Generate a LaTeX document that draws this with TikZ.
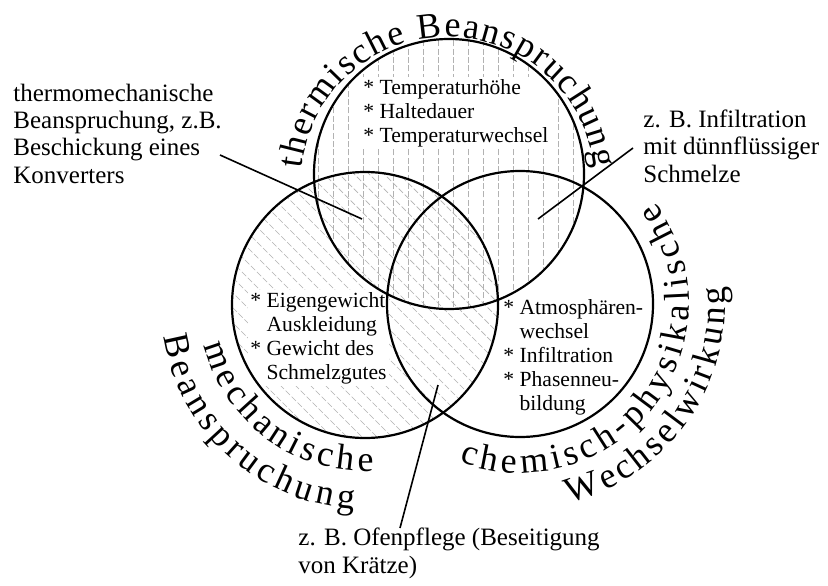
\documentclass[tikz,border=0pt]{standalone}
\usepackage{fontspec}
\setmainfont{Liberation Serif}
\usetikzlibrary{decorations.text}

\newcommand{\notesize}{\fontsize{12.5}{13.6}\selectfont}
\newcommand{\itemsize}{\fontsize{10.8}{12}\selectfont}
\newcommand{\arcsize}{\fontsize{18}{20}\selectfont}

\tikzset{
  ring/.style={line width=1.1pt},
  hatch/.style={gray!60, line width=0.35pt, dash pattern=on 3pt off 1.2pt},
  items/.style={fill=white, inner sep=1pt, align=left, anchor=base west, font=\itemsize},
  note/.style={inner sep=0pt, align=left, anchor=base west, font=\notesize},
  leader/.style={line width=0.8pt},
  arctext/.style={decorate, decoration={text along path, text align={fit to path}, text={|\arcsize|#1}}},
}

\begin{document}
\begin{tikzpicture}[x=0.5pt, y=0.5pt]
  \useasboundingbox[fill=white] (0,0) rectangle (828,585);
  \coordinate (therm) at (449,411);
  \coordinate (mech) at (365,280);
  \coordinate (chem) at (520,281);
  \coordinate (thermtext) at (448,401);

  % hatching
  \begin{scope}
    \clip (therm) circle[radius=135];
    \foreach \x in {318,333,...,588}
      \draw[hatch] (\x,270) -- (\x,550);
  \end{scope}
  \begin{scope}
    \clip (mech) circle[radius=133];
    \foreach \k in {450,465,...,840}
      \draw[hatch] (\k,0) -- ++(-450,450);
  \end{scope}

  % lists inside the circles (anchored at the last line)
  \node[items] (tlist) at (361,443) {* Temperaturhöhe\\* Haltedauer\\* Temperaturwechsel};
  \node[items] (mlist) at (248,206) {* Eigengewicht\\\phantom{* }Auskleidung\\* Gewicht des\\\phantom{* }Schmelzgutes};
  \node[items] (clist) at (501,175) {* Atmosphären-\\\phantom{* }wechsel\\* Infiltration\\* Phasenneu-\\\phantom{* }bildung};

  \draw[ring] (therm) circle[radius=135];
  \draw[ring] (mech) circle[radius=133];
  \draw[ring] (chem) circle[radius=133];

  % curved titles
  \path[arctext=thermische Beanspruchung] (thermtext) ++(174:147) arc[start angle=174, end angle=6, radius=147];
  \path[arctext=mechanische] (mech) ++(194:166) arc[start angle=194, end angle=273, radius=166];
  \path[arctext=Beanspruchung] (mech) ++(189:204) arc[start angle=189, end angle=267, radius=204];
  \path[arctext=chemisch-physikalische] (chem) ++(249:169) arc[start angle=249, end angle=397, radius=169];
  \path[arctext=Wechselwirkung] (chem) ++(284:205) arc[start angle=284, end angle=365, radius=205];

  % notes with leaders (anchored at the last line)
  \node[note] (tmnote) at (13,402) {thermomechanische\\Beanspruchung, z.B.\\Beschickung eines\\Konverters};
  \node[note] (infnote) at (643,403) {z. B. Infiltration\\mit dünnflüssiger\\Schmelze};
  \node[note] (ofnote) at (298,12) {z. B. Ofenpflege (Beseitigung\\von Krätze)};

  \coordinate (tmfrom) at (220,430);
  \coordinate (tmto) at (362,366);
  \coordinate (inffrom) at (633,437);
  \coordinate (infto) at (538,366);
  \coordinate (offrom) at (400,57);
  \coordinate (ofto) at (438,200);
  \draw[leader] (tmfrom) -- (tmto);
  \draw[leader] (inffrom) -- (infto);
  \draw[leader] (offrom) -- (ofto);
\end{tikzpicture}
\end{document}
